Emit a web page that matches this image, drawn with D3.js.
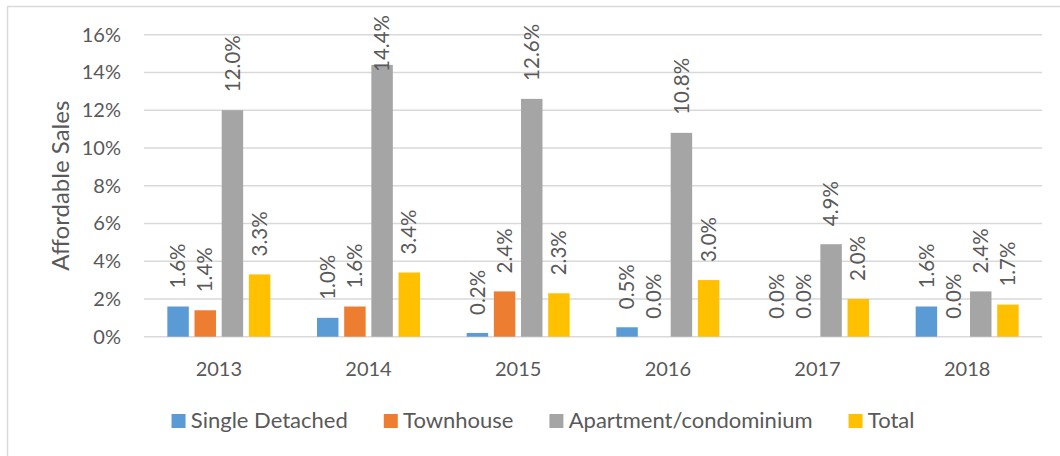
<!DOCTYPE html>
<html>
<head>
<meta charset="utf-8">
<style>
  body { margin: 0; background: white; font-family: Lato, "Open Sans", sans-serif; }
  svg text { fill: #595959; }
</style>
<script src="https://cdn.jsdelivr.net/npm/d3@7"></script>
</head>
<body>
<svg id="chart"></svg>
<script>
// data (percent)
let years = ["2013", "2014", "2015", "2016", "2017", "2018"]
let seriesNames = ["Single Detached", "Townhouse", "Apartment/condominium", "Total"]
let singleDetached = [1.6, 1.0, 0.2, 0.5, 0.0, 1.6]
let townhouse = [1.4, 1.6, 2.4, 0.0, 0.0, 0.0]
let apartment = [12.0, 14.4, 12.6, 10.8, 4.9, 2.4]
let total = [3.3, 3.4, 2.3, 3.0, 2.0, 1.7]
let yTicks = [0, 2, 4, 6, 8, 10, 12, 14, 16]
let colors = ["#5B9BD5", "#ED7D31", "#A5A5A5", "#FFC000"]

let width = 1060, height = 456
let plot = {left: 144, right: 1042, top: 34.7, bottom: 336.7}

let svg = d3.select("#chart").attr("width", width).attr("height", height)

// outer chart border (runs off the right and bottom edge like the original)
svg.append("rect")
  .attr("x", 7.5).attr("y", 6.5)
  .attr("width", 1200).attr("height", 600)
  .attr("fill", "white")
  .attr("stroke", "#D9D9D9").attr("stroke-width", 1.5)

let y = d3.scaleLinear().domain([0, 16]).range([plot.bottom, plot.top])
let x = d3.scaleBand().domain(years).range([plot.left, plot.right])

// gridlines
svg.append("g").selectAll("line").data(yTicks).enter().append("line")
  .attr("x1", plot.left).attr("x2", plot.right)
  .attr("y1", d => y(d)).attr("y2", d => y(d))
  .attr("stroke", "#D9D9D9").attr("stroke-width", 1.5)

// y tick labels
svg.append("g").selectAll("text").data(yTicks).enter().append("text")
  .attr("x", 121).attr("y", d => y(d))
  .attr("dy", "0.35em")
  .attr("text-anchor", "end")
  .style("font-size", "20px")
  .text(d => d + "%")

// y axis title
svg.append("text")
  .attr("transform", "translate(61," + ((plot.top + plot.bottom) / 2) + ") rotate(-90)")
  .attr("dy", "0.35em")
  .attr("text-anchor", "middle")
  .style("font-size", "24px")
  .text("Affordable Sales")

// year labels
svg.append("g").selectAll("text").data(years).enter().append("text")
  .attr("x", d => x(d) + x.bandwidth() / 2)
  .attr("y", 375.5)
  .attr("text-anchor", "middle")
  .style("font-size", "20px")
  .text(d => d)

let allSeries = [singleDetached, townhouse, apartment, total]
let rows = []
years.forEach((yr, i) => {
  allSeries.forEach((s, j) => rows.push({year: yr, series: seriesNames[j], idx: j, value: s[i]}))
})

function inner(yr) {
  let c = x(yr) + x.bandwidth() / 2
  return d3.scaleBand().domain(seriesNames).range([c - 51.5, c + 51.5]).paddingInner(0.21).paddingOuter(0)
}

// bars
svg.append("g").selectAll("rect").data(rows).enter().append("rect")
  .attr("x", d => inner(d.year)(d.series))
  .attr("width", d => inner(d.year).bandwidth())
  .attr("y", d => y(d.value))
  .attr("height", d => plot.bottom - y(d.value))
  .attr("fill", d => colors[d.idx])

// data labels, rotated; kept inside the chart area at the top
let labels = svg.append("g").selectAll("text").data(rows).enter().append("text")
  .attr("text-anchor", "start")
  .attr("dy", "0.35em")
  .style("font-size", "20.5px")
  .text(d => d.value.toFixed(1) + "%")
labels.each(function(d) {
  let len = this.getComputedTextLength()
  let cx = inner(d.year)(d.series) + inner(d.year).bandwidth() / 2
  let base = Math.max(y(d.value) - 18, 15 + len)
  d3.select(this).attr("transform", "translate(" + cx + "," + base + ") rotate(-90)")
})

// legend
let legend = svg.append("g")
let lx = 0
seriesNames.forEach((name, j) => {
  let g = legend.append("g").attr("transform", "translate(" + lx + ",0)")
  g.append("rect").attr("x", 0).attr("y", 414).attr("width", 14).attr("height", 14).attr("fill", colors[j])
  let t = g.append("text").attr("x", 19.3).attr("y", 427.7).style("font-size", "22px").text(name)
  lx += 19.3 + t.node().getComputedTextLength() + 36
})
let legendWidth = lx - 36
legend.attr("transform", "translate(" + (543 - legendWidth / 2) + ",0)")
</script>
</body>
</html>
